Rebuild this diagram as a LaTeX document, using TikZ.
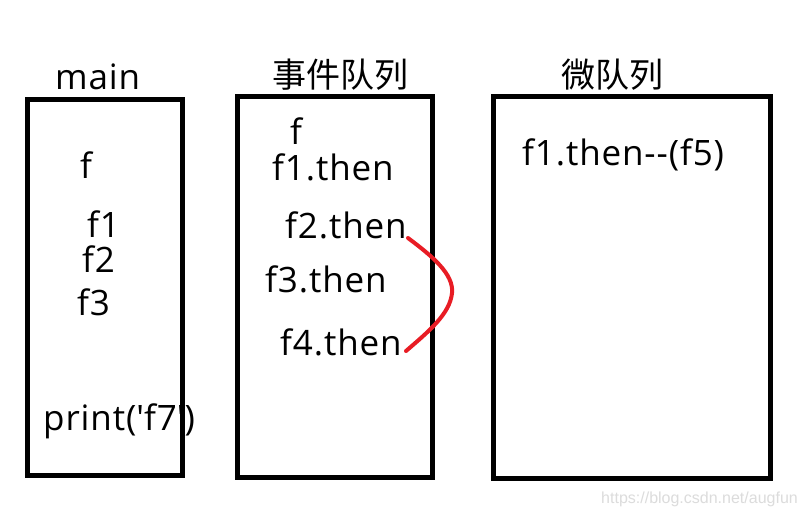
\documentclass[tikz,border=0pt]{standalone}
\usepackage{fontspec}
\setmainfont{Open Sans}[LetterSpace=2.5]
\newfontfamily\cjk{Noto Sans CJK SC}
\newfontfamily\wmfont{Liberation Sans}
\begin{document}
\begin{tikzpicture}[x=1pt,y=-1pt,
  box/.style={draw=black,line width=5pt,minimum width=#1,inner sep=0pt},
  lbl/.style={anchor=base west,inner sep=0pt,font=\fontsize{35}{35}\selectfont},
  ttl/.style={anchor=base west,inner sep=0pt,font=\cjk\fontsize{34}{34}\selectfont},
  redline/.style={draw={rgb,255:red,232;green,28;blue,36},line width=4pt,line cap=round}]
\useasboundingbox[fill=white] (0,0) rectangle (808,516);
% boxes
\node[box=155pt,minimum height=375pt] (mainbox) at (104.5,287.5) {};
\node[box=195pt,minimum height=380pt] (evbox) at (334.5,287) {};
\node[box=277pt,minimum height=381pt] (mqbox) at (631.5,287.5) {};
% titles
\node[lbl] (tmain) at (55,90) {main};
\node[ttl] (tev) at (272,88) {事件队列};
\node[ttl] (tmq) at (561,88) {微队列};
% main column
\node[lbl] (mf) at (80,178) {f};
\node[lbl] (mf1) at (87,237) {f1};
\node[lbl] (mf2) at (82,272) {f2};
\node[lbl] (mf3) at (77,315) {f3};
\node[lbl] (mprint) at (43,430) {print(\textquotesingle f7\textquotesingle)};
% event queue
\node[lbl] (ef) at (290,145) {f};
\node[lbl] (ef1) at (272,180) {f1.then};
\node[lbl] (ef2) at (285,238) {f2.then};
\node[lbl] (ef3) at (265,292) {f3.then};
\node[lbl] (ef4) at (280,355) {f4.then};
% micro queue
\node[lbl] (qf1) at (522,165) {f1.then-{}-(f5)};
% red bracket
\coordinate (rs) at (408,238);
\coordinate (rm) at (452,293);
\coordinate (re) at (406,351);
\draw[redline] (rs) .. controls (432,256) and (454,274) .. (rm)
  .. controls (450,314) and (428,332) .. (re);
% watermark
\node[anchor=base east,inner sep=0pt,text={rgb,255:red,220;green,220;blue,220},font=\wmfont\fontsize{16}{16}\selectfont] (wm) at (798,503) {https://blog.csdn.net/augfun};
\end{tikzpicture}
\end{document}
